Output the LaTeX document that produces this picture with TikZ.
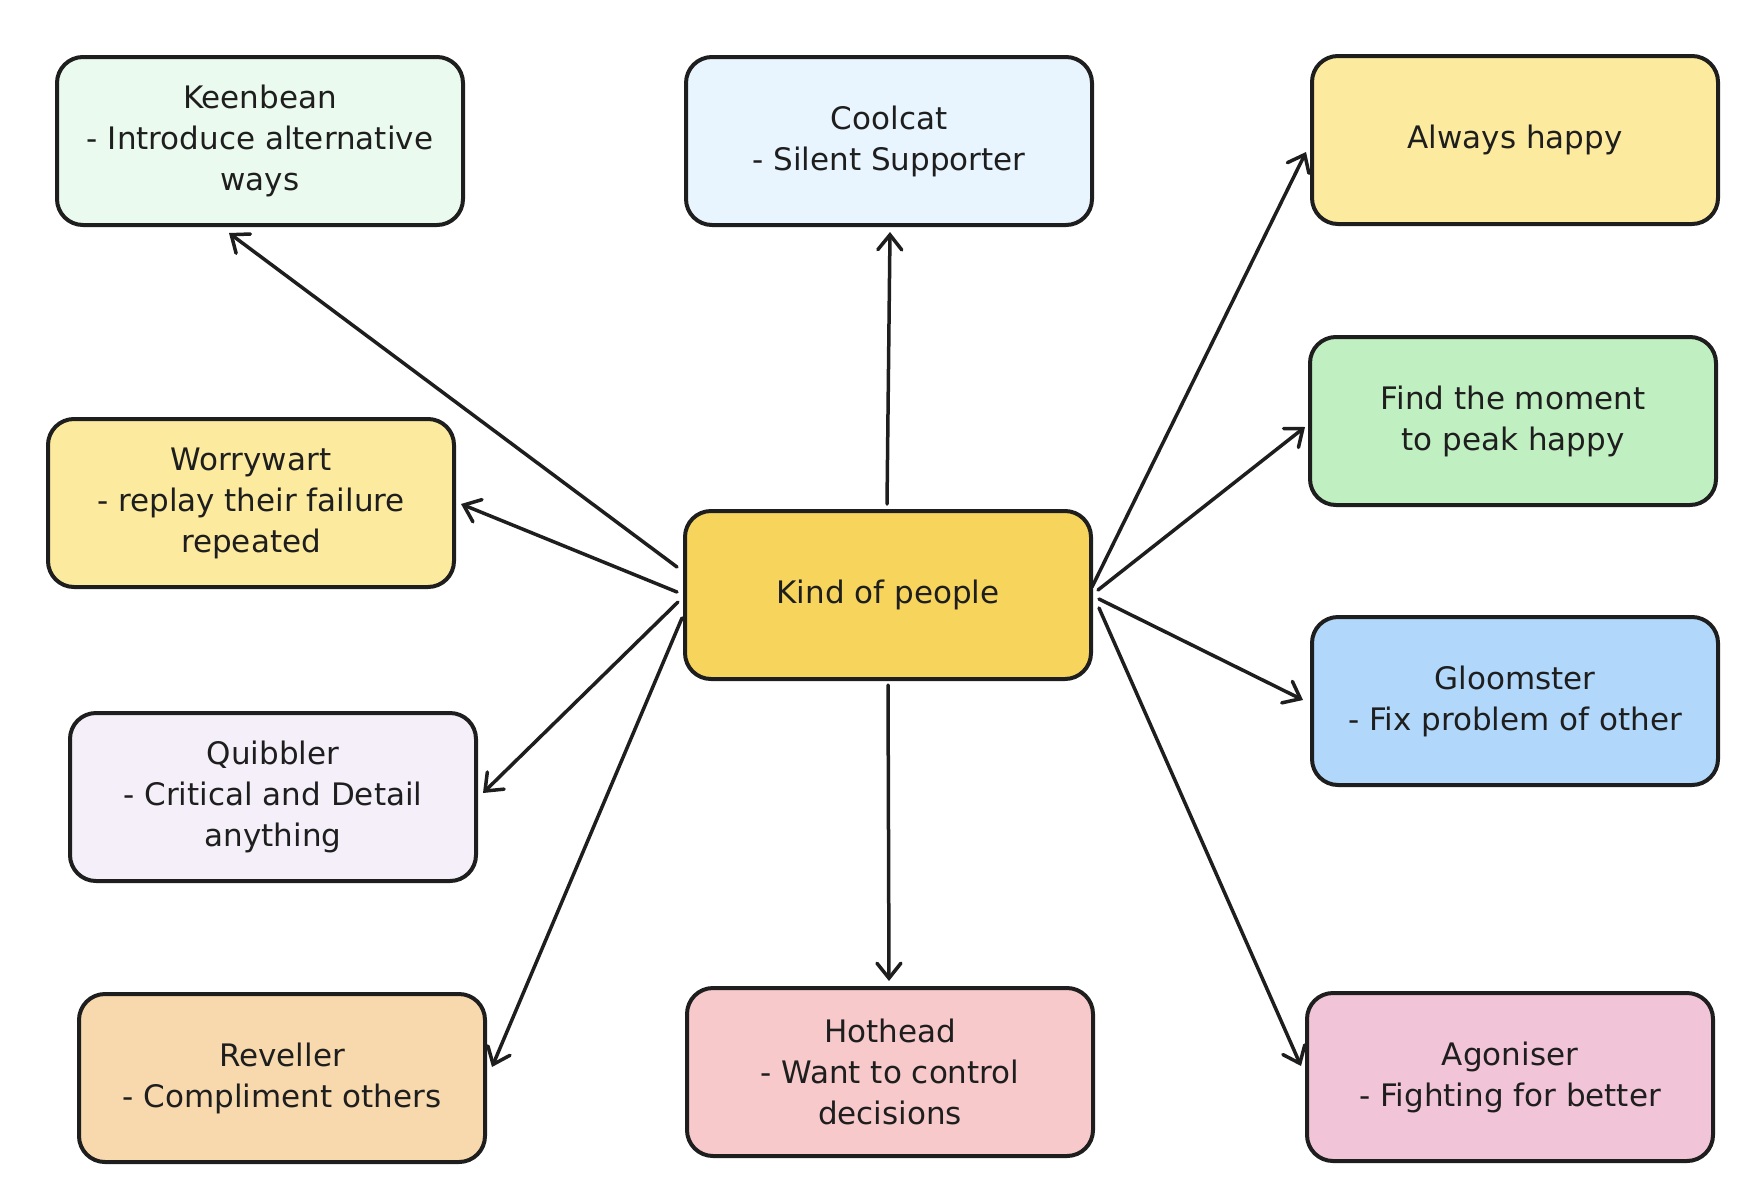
\documentclass[tikz,border=0pt]{standalone}
\usepackage{fontspec}
\setmainfont{DejaVu Sans}
\usetikzlibrary{arrows.meta,calc}
\definecolor{ink}{HTML}{1E1E1E}
\definecolor{ckeen}{HTML}{EBFAEE}
\definecolor{ccool}{HTML}{E8F4FE}
\definecolor{cyel}{HTML}{FCEB9F}
\definecolor{ccen}{HTML}{F7D55C}
\definecolor{cfind}{HTML}{C0F0C2}
\definecolor{cgloom}{HTML}{B1D8FB}
\definecolor{cquib}{HTML}{F5EFF9}
\definecolor{crev}{HTML}{F8D9AD}
\definecolor{chot}{HTML}{F7C9CA}
\definecolor{cago}{HTML}{F2C4D7}
\tikzset{
  card/.style={draw=ink, line width=4pt, rounded corners=26pt,
    minimum width=406pt, minimum height=168pt, inner sep=0pt,
    align=center, text=ink,
    font=\fontsize{31}{41}\selectfont},
  arr/.style={draw=ink, line width=3.5pt, line cap=round,
    -{Straight Barb[length=15pt,width=24pt,line width=3.5pt,line cap=round]}}
}
\begin{document}
\begin{tikzpicture}[x=1pt,y=-1pt]
\useasboundingbox (0,0) rectangle (1750,1194);
\node[card, fill=ckeen] (k) at (260,141) {Keenbean\\- Introduce alternative\\ways};
\node[card, fill=ccool] (co) at (889,141) {Coolcat\\- Silent Supporter};
\node[card, fill=cyel] (al) at (1515,140) {Always happy};
\node[card, fill=cyel] (w) at (251,503) {Worrywart\\- replay their failure\\repeated};
\node[card, fill=ccen] (c) at (888,595) {Kind of people};
\node[card, fill=cfind] (f) at (1513,421) {Find the moment\\to peak happy};
\node[card, fill=cquib] (q) at (273,797) {Quibbler\\- Critical and Detail\\anything};
\node[card, fill=cgloom] (g) at (1515,701) {Gloomster\\- Fix problem of other};
\node[card, fill=crev] (r) at (282,1078) {Reveller\\- Compliment others};
\node[card, fill=chot] (h) at (890,1072) {Hothead\\- Want to control\\decisions};
\node[card, fill=cago] (a) at (1510,1077) {Agoniser\\- Fighting for better};

\draw[arr] ($(c.west)+(-6,-28)$) -- ($(k.south)+(-31,6)$);
\draw[arr] ($(c.north)+(-1,-5)$) -- ($(co.south)+(1,5)$);
\draw[arr] ($(c.east)+(-1,-8)$) -- ($(al.west)+(-4,12)$);
\draw[arr] ($(c.east)+(5,-5)$) -- ($(f.west)+(-3,6)$);
\draw[arr] ($(c.west)+(-6,-3)$) -- ($(w.east)+(5,1)$);
\draw[arr] ($(c.east)+(6,4)$) -- ($(g.west)+(-7,-1)$);
\draw[arr] ($(c.west)+(-5,7)$) -- ($(q.east)+(5,-4)$);
\draw[arr] ($(c.west)+(-1,23)$) -- ($(r.east)+(5,-11)$);
\draw[arr] ($(c.south)+(0,4)$) -- ($(h.north)+(-1,-5)$);
\draw[arr] ($(c.east)+(6,13)$) -- ($(a.west)+(-4,-11)$);
\end{tikzpicture}
\end{document}
